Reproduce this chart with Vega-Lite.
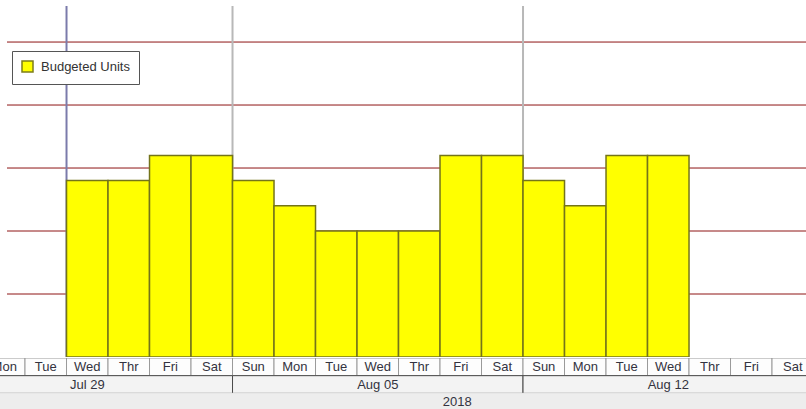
{
  "$schema": "https://vega.github.io/schema/vega-lite/v6.json",
  "padding": {"top": 5, "left": 0, "right": 0, "bottom": 0},
  "background": "white",
  "spacing": 0,
  "config": {
    "view": {"stroke": null},
    "font": "Liberation Sans",
    "scale": {"continuousPadding": 0},
    "legend": {
      "orient": "none",
      "legendX": 12,
      "legendY": 45,
      "padding": 9,
      "strokeColor": "#555555",
      "fillColor": "white",
      "cornerRadius": 0,
      "symbolType": "square",
      "symbolSize": 121,
      "symbolStrokeWidth": 1.5,
      "symbolStrokeColor": "#7d7d1a",
      "labelFont": "Liberation Sans",
      "labelFontSize": 13,
      "labelColor": "#333333",
      "labelOffset": 7
    }
  },
  "resolve": {"scale": {"fill": "independent", "stroke": "independent"}},
  "datasets": {
    "bars": [
      {"date": "2018-07-25", "end": "2018-07-26", "units": 70, "series": "Budgeted Units"},
      {"date": "2018-07-26", "end": "2018-07-27", "units": 70, "series": "Budgeted Units"},
      {"date": "2018-07-27", "end": "2018-07-28", "units": 80, "series": "Budgeted Units"},
      {"date": "2018-07-28", "end": "2018-07-29", "units": 80, "series": "Budgeted Units"},
      {"date": "2018-07-29", "end": "2018-07-30", "units": 70, "series": "Budgeted Units"},
      {"date": "2018-07-30", "end": "2018-07-31", "units": 60, "series": "Budgeted Units"},
      {"date": "2018-07-31", "end": "2018-08-01", "units": 50, "series": "Budgeted Units"},
      {"date": "2018-08-01", "end": "2018-08-02", "units": 50, "series": "Budgeted Units"},
      {"date": "2018-08-02", "end": "2018-08-03", "units": 50, "series": "Budgeted Units"},
      {"date": "2018-08-03", "end": "2018-08-04", "units": 80, "series": "Budgeted Units"},
      {"date": "2018-08-04", "end": "2018-08-05", "units": 80, "series": "Budgeted Units"},
      {"date": "2018-08-05", "end": "2018-08-06", "units": 70, "series": "Budgeted Units"},
      {"date": "2018-08-06", "end": "2018-08-07", "units": 60, "series": "Budgeted Units"},
      {"date": "2018-08-07", "end": "2018-08-08", "units": 80, "series": "Budgeted Units"},
      {"date": "2018-08-08", "end": "2018-08-09", "units": 80, "series": "Budgeted Units"}
    ],
    "header": [
      {"row": "day", "start": "2018-07-23", "end": "2018-07-24", "label": "Mon"},
      {"row": "day", "start": "2018-07-24", "end": "2018-07-25", "label": "Tue"},
      {"row": "day", "start": "2018-07-25", "end": "2018-07-26", "label": "Wed"},
      {"row": "day", "start": "2018-07-26", "end": "2018-07-27", "label": "Thr"},
      {"row": "day", "start": "2018-07-27", "end": "2018-07-28", "label": "Fri"},
      {"row": "day", "start": "2018-07-28", "end": "2018-07-29", "label": "Sat"},
      {"row": "day", "start": "2018-07-29", "end": "2018-07-30", "label": "Sun"},
      {"row": "day", "start": "2018-07-30", "end": "2018-07-31", "label": "Mon"},
      {"row": "day", "start": "2018-07-31", "end": "2018-08-01", "label": "Tue"},
      {"row": "day", "start": "2018-08-01", "end": "2018-08-02", "label": "Wed"},
      {"row": "day", "start": "2018-08-02", "end": "2018-08-03", "label": "Thr"},
      {"row": "day", "start": "2018-08-03", "end": "2018-08-04", "label": "Fri"},
      {"row": "day", "start": "2018-08-04", "end": "2018-08-05", "label": "Sat"},
      {"row": "day", "start": "2018-08-05", "end": "2018-08-06", "label": "Sun"},
      {"row": "day", "start": "2018-08-06", "end": "2018-08-07", "label": "Mon"},
      {"row": "day", "start": "2018-08-07", "end": "2018-08-08", "label": "Tue"},
      {"row": "day", "start": "2018-08-08", "end": "2018-08-09", "label": "Wed"},
      {"row": "day", "start": "2018-08-09", "end": "2018-08-10", "label": "Thr"},
      {"row": "day", "start": "2018-08-10", "end": "2018-08-11", "label": "Fri"},
      {"row": "day", "start": "2018-08-11", "end": "2018-08-12", "label": "Sat"},
      {"row": "week", "start": "2018-07-22", "end": "2018-07-29", "label": "Jul 29"},
      {"row": "week", "start": "2018-07-29", "end": "2018-08-05", "label": "Aug 05"},
      {"row": "week", "start": "2018-08-05", "end": "2018-08-12", "label": "Aug 12"},
      {"row": "year", "start": "2018-01-01", "end": "2019-01-01", "label": "2018", "at": "2018-08-03T10:00:00Z"}
    ]
  },
  "vconcat": [
    {
      "width": 806,
      "height": 351,
      "layer": [
        {
          "data": {"values": [{"g": 25}, {"g": 50}, {"g": 75}, {"g": 100}, {"g": 125}]},
          "mark": {"type": "rule", "color": "#8e1414", "strokeWidth": 1},
          "encoding": {
            "y": {"field": "g", "type": "quantitative", "scale": {"domain": [0, 139.3], "nice": false, "zero": true}, "axis": null},
            "x": {"datum": {"year": 2018, "month": 7, "date": 23, "hours": 13, "minutes": 35, "utc": true}, "type": "temporal", "scale": {"type": "utc", "padding": 0, "domain": [{"year": 2018, "month": 7, "date": 23, "hours": 9, "minutes": 32, "utc": true}, {"year": 2018, "month": 8, "date": 11, "hours": 19, "minutes": 39, "utc": true}]}, "axis": null},
            "x2": {"datum": {"year": 2018, "month": 8, "date": 12, "utc": true}}
          }
        },
        {
          "data": {"values": [
            {"date": "2018-07-25", "kind": "marker"},
            {"date": "2018-07-29", "kind": "week"},
            {"date": "2018-08-05", "kind": "week"}
          ]},
          "mark": {"type": "rule", "strokeWidth": 2},
          "encoding": {
            "x": {"field": "date", "type": "temporal", "scale": {"type": "utc", "padding": 0, "domain": [{"year": 2018, "month": 7, "date": 23, "hours": 9, "minutes": 32, "utc": true}, {"year": 2018, "month": 8, "date": 11, "hours": 19, "minutes": 39, "utc": true}]}, "axis": null},
            "stroke": {"field": "kind", "type": "nominal", "scale": {"domain": ["marker", "week"], "range": ["#7b7bab", "#b8b8b8"]}, "legend": null}
          }
        },
        {
          "data": {"name": "bars"},
          "mark": {"type": "bar", "stroke": "#74741a", "strokeWidth": 1.5, "clip": true, "orient": "vertical"},
          "encoding": {
            "x": {"field": "date", "type": "temporal", "scale": {"type": "utc", "padding": 0, "domain": [{"year": 2018, "month": 7, "date": 23, "hours": 9, "minutes": 32, "utc": true}, {"year": 2018, "month": 8, "date": 11, "hours": 19, "minutes": 39, "utc": true}]}, "axis": null},
            "x2": {"field": "end"},
            "y": {"field": "units", "type": "quantitative", "scale": {"domain": [0, 139.3], "nice": false}, "axis": null},
            "y2": {"datum": 0},
            "fill": {"field": "series", "type": "nominal", "scale": {"range": ["#ffff00"]}, "legend": {"title": null}}
          }
        },
        {
          "mark": {"type": "rule", "color": "#222222", "strokeWidth": 1.5},
          "encoding": {"y": {"datum": 0, "type": "quantitative"}}
        }
      ]
    },
    {
      "width": 806,
      "height": 53,
      "data": {"name": "header"},
      "transform": [
        {"calculate": "datum.at ? time(datum.at) : (time(datum.start) + time(datum.end)) / 2", "as": "mid"}
      ],
      "encoding": {
        "y": {"field": "row", "type": "nominal", "scale": {"domain": ["day", "week", "year"], "paddingInner": 0, "paddingOuter": 0}, "axis": null}
      },
      "layer": [
        {
          "mark": {"type": "rect", "clip": true, "strokeWidth": 1},
          "encoding": {
            "x": {"field": "start", "type": "temporal", "scale": {"type": "utc", "padding": 0, "domain": [{"year": 2018, "month": 7, "date": 23, "hours": 9, "minutes": 32, "utc": true}, {"year": 2018, "month": 8, "date": 11, "hours": 19, "minutes": 39, "utc": true}]}, "axis": null},
            "x2": {"field": "end"},
            "fill": {"field": "row", "type": "nominal", "scale": {"domain": ["day", "week", "year"], "range": ["#fdfdfd", "#f3f3f3", "#ededed"]}, "legend": null},
            "stroke": {"field": "row", "type": "nominal", "scale": {"domain": ["day", "week", "year"], "range": ["#9a9a9a", "#4a4a4a", "#ededed"]}, "legend": null}
          }
        },
        {
          "mark": {"type": "text", "clip": true, "fontSize": 13, "color": "#333340", "font": "Liberation Sans"},
          "encoding": {
            "x": {"field": "mid", "type": "temporal", "scale": {"type": "utc", "padding": 0, "domain": [{"year": 2018, "month": 7, "date": 23, "hours": 9, "minutes": 32, "utc": true}, {"year": 2018, "month": 8, "date": 11, "hours": 19, "minutes": 39, "utc": true}]}, "axis": null},
            "text": {"field": "label"}
          }
        }
      ]
    }
  ]
}
